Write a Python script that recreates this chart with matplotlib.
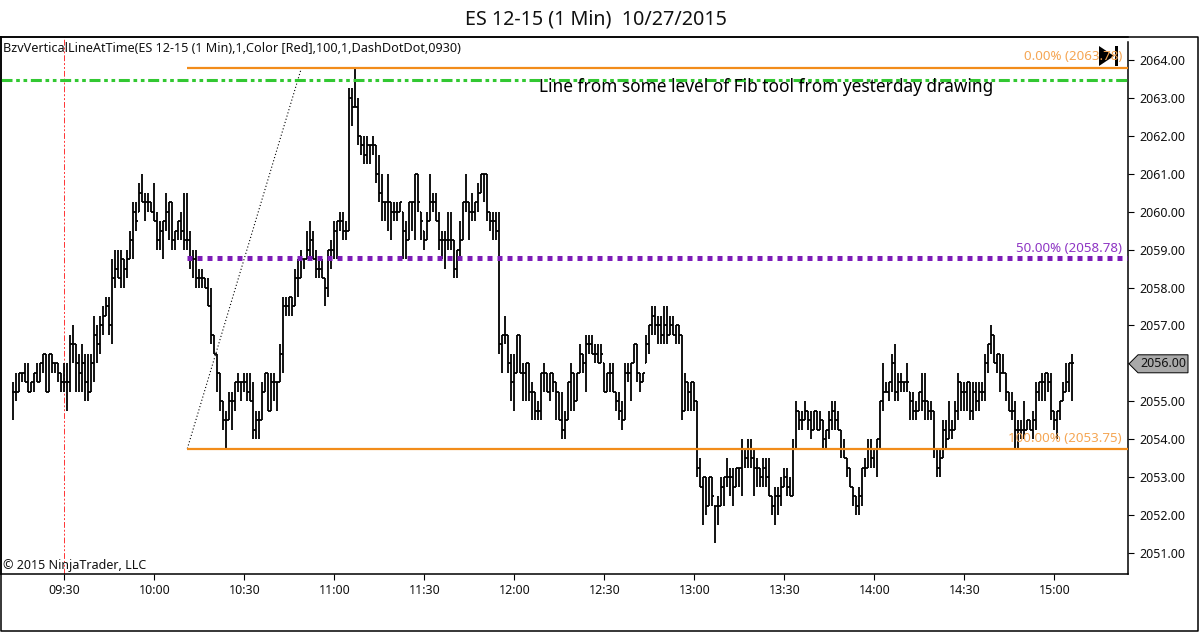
import numpy as np
import matplotlib
matplotlib.use('Agg')
import matplotlib.pyplot as plt
from matplotlib.patches import Polygon, Rectangle

plt.rcParams['font.family'] = ['Noto Sans', 'DejaVu Sans']

W, H = 1199, 632

# prices are points above 2000, one bar per minute
highs = [
    55.5, 55.75, 55.75, 55.75, 56, 56, 55.5, 55.75, 56, 56,
    56.25, 56.25, 56.25, 56.25, 56, 56, 55.75, 56, 56, 56.75,
    57, 56.5, 56.25, 56.5, 56.25, 56.25, 56.25, 57.25, 57, 57.25,
    57.5, 57.75, 57.75, 58.75, 59, 59, 59, 58.75, 59, 59.5,
    60.25, 60.25, 60.75, 61, 60.5, 60.5, 60.25, 60.75, 60, 59.75,
    59.75, 60.5, 60.25, 60.25, 59.5, 59.75, 60, 60.5, 60.5, 59.5,
    59, 59, 58.5, 58.5, 58.25, 58.25, 58, 56.75, 56.25, 55.75,
    55, 54.75, 55.25, 55.25, 55.5, 55.75, 55.5, 55.75, 55.75, 55.75,
    55.5, 54.75, 54.75, 55.5, 55.75, 55.75, 55.75, 55.75, 55.5, 56.5,
    57.75, 57.75, 57.75, 57.75, 58.5, 58.75, 59, 58.75, 59.5, 59.75,
    59.5, 59, 58.75, 58.75, 58.25, 59, 59.25, 59.75, 59.75, 60,
    60, 59.75, 63.25, 63.25, 63.75, 63, 62, 62, 62, 61.75,
    62, 61.75, 61.5, 61, 60.25, 61, 60.25, 60.25, 60.25, 60.25,
    60, 59.75, 60.25, 60.25, 61, 61, 60, 59.5, 60, 61,
    60.5, 60.5, 60, 59.5, 59.5, 60, 60, 59.25, 59, 59.75,
    60.25, 61, 60.25, 60.5, 60.25, 60.75, 61, 61, 61, 60,
    60, 60, 60, 56.75, 57.25, 56.75, 56.25, 56.25, 56.75, 56.75,
    56, 56, 56, 55.5, 55.25, 55, 55.75, 56, 55.75, 55.75,
    55.75, 55.5, 55.25, 55.25, 54.75, 55.5, 56, 55.75, 55.75, 56.5,
    56.25, 56.75, 56.75, 56.75, 56.5, 56.5, 56.5, 56, 55.75, 56,
    56, 55.25, 55.25, 55, 56, 56, 56, 56.5, 56.5, 55.75,
    55.75, 56.75, 57, 57.5, 57.5, 57.25, 57.25, 57.5, 57.5, 57.25,
    57.25, 57, 57, 56.75, 55.75, 55.5, 55.5, 55.5, 55, 53.5,
    53, 53, 53, 53, 52.25, 52.5, 53, 53, 53.5, 53.25,
    53.25, 53.25, 53.25, 54, 53.75, 54, 54, 53.75, 53.5, 53.25,
    53.5, 53.5, 53.5, 52.5, 52.75, 52.75, 53, 53.25, 53.25, 53,
    54, 55, 54.75, 54.75, 55, 54.75, 54.75, 54.75, 54.75, 54.75,
    54.5, 54.25, 54.75, 55, 55, 54.75, 54.25, 54, 53.5, 53.25,
    52.75, 52.5, 52.75, 53.25, 53.5, 54, 54, 53.75, 54, 55,
    56, 55.5, 55.5, 56.25, 56.5, 55.75, 55.75, 55.5, 56, 55.25,
    55.25, 55, 55.25, 55.75, 55.75, 55, 55, 54.75, 53.75, 53.75,
    54.5, 54.5, 55, 54.5, 55, 55.75, 55.5, 55.5, 55.5, 55.5,
    55.5, 55.5, 55.5, 55.5, 56.25, 56.5, 57, 56.75, 56.25, 56.25,
    56.25, 55.75, 55.25, 55.25, 55, 54.5, 54.5, 55, 54.5, 54.5,
    54.75, 55.5, 55.5, 55.75, 55.75, 55.75, 55.75, 54.75, 54.75, 55,
    55.5, 56, 56, 56.25,
]
lows = [
    54.5, 55, 55.25, 55.5, 55.5, 55.25, 55.25, 55.25, 55.5, 55.5,
    55.75, 55.25, 55.25, 55.75, 55.75, 55.5, 55.25, 55.25, 54.75, 55.25,
    56, 55.25, 55.25, 55.25, 55, 55, 55.25, 55.5, 56, 56.25,
    56.75, 57.25, 56.75, 56.5, 58, 58.25, 58, 58, 58.25, 58.75,
    58.75, 59.5, 60, 60.25, 59.75, 60, 60, 59.75, 59, 59,
    58.75, 59.5, 59.25, 59, 59, 59.25, 59.25, 59, 59, 58.5,
    58.25, 58, 58, 58, 58, 57.5, 56.5, 56.25, 55.25, 54.75,
    54.25, 53.75, 54.5, 54.25, 54.75, 55.25, 55, 55.25, 55, 55,
    54, 54, 54, 54.5, 55.25, 54.75, 54.75, 55, 54.75, 55.5,
    55.75, 57.25, 57.25, 57.25, 57.5, 57.75, 58.25, 58.5, 58.75, 58.75,
    58.75, 58.25, 58.25, 58.25, 57.5, 57.75, 58.5, 58.75, 58.75, 59.5,
    59.25, 59.25, 59.5, 62.25, 62.75, 61.75, 61.5, 61.25, 61.25, 61.25,
    61.5, 60.75, 60.25, 59.75, 59.75, 59.5, 59.25, 59.75, 59.75, 60,
    58.75, 58.75, 59.25, 59.5, 59.25, 60, 59.25, 59, 59.25, 59.75,
    60, 59.75, 59, 58.75, 58.5, 59, 59, 58.25, 58.25, 58.75,
    59.25, 60, 59.25, 59.75, 59.75, 60, 60.5, 60.25, 59.75, 59.5,
    59.25, 59.25, 56.25, 55.75, 56.5, 55.75, 55, 54.75, 55.75, 55.75,
    55, 55, 55, 54.5, 54.5, 54.5, 54.5, 55.25, 55.25, 55,
    55.25, 54.5, 54.5, 54, 54, 54.5, 54.75, 54.75, 55, 55.75,
    55.75, 55.25, 56.25, 56.25, 56, 56, 56, 55.25, 55.25, 55.25,
    55.25, 54.75, 54.5, 54.25, 54.5, 55.5, 55, 56, 55.5, 55.25,
    55.5, 56, 56.25, 56.75, 56.75, 56.5, 56.5, 56.5, 56.5, 56.75,
    56.75, 56.5, 56.5, 54.5, 54.75, 54.75, 54.75, 54.75, 53, 52.75,
    51.75, 52, 52.25, 52.25, 51.25, 51.75, 52.25, 52.25, 52.75, 52.5,
    52.25, 52.75, 52.75, 52.5, 53.25, 53.25, 53.25, 52.5, 52.75, 52.75,
    52.75, 52.75, 52.5, 52, 51.75, 52, 52.25, 52.75, 52.5, 52.5,
    52.5, 53.75, 54.25, 54.25, 54.5, 54.25, 54, 54.25, 54.25, 54.25,
    53.75, 53.75, 54, 54.25, 54.25, 54.25, 53.5, 53.5, 53, 52.75,
    52.25, 52, 52, 52.25, 53, 53.25, 53.25, 53.25, 53, 53.75,
    54.75, 55.25, 55, 55.25, 55, 55, 55.25, 55.25, 55.25, 54.5,
    54.5, 54.5, 54.75, 54.75, 54.5, 54.5, 54.5, 53.5, 53, 53,
    53.5, 53.75, 54, 54, 54.25, 54.5, 54.75, 54.75, 54.75, 54.5,
    54.5, 54.75, 54.75, 55, 55, 55.75, 56.25, 56, 55.75, 55.25,
    55.75, 55, 54.75, 54.5, 53.75, 53.75, 54, 54, 54.25, 54.25,
    54, 54.25, 55, 55, 55, 55.25, 54.5, 54.25, 54, 54.5,
    55, 55.25, 55.25, 55,
]
closes = [
    55.25, 55.25, 55.75, 55.75, 55.5, 55.25, 55.5, 55.75, 55.5, 56,
    56.25, 55.25, 56.25, 56, 56, 55.75, 55.5, 55.5, 55.5, 56.5,
    56.5, 56, 55.75, 56, 55.5, 55.25, 56, 56.75, 56.5, 57,
    57.25, 57.5, 57, 58.25, 58.5, 58.25, 58.75, 58.5, 58.75, 59.25,
    60, 59.75, 60.5, 60.25, 60.25, 60.25, 60, 59.75, 59.25, 59.5,
    59.75, 60, 60.25, 59.25, 59.5, 59.75, 59.5, 59.25, 59.25, 58.75,
    58.75, 58.25, 58.25, 58.25, 58, 57.5, 56.75, 56.25, 55.75, 55,
    54.5, 54.5, 55, 55, 55.5, 55.5, 55.5, 55.5, 55.25, 55,
    54.25, 54.5, 54.5, 55.25, 55.75, 54.75, 55.5, 55.5, 55.5, 56.25,
    57.5, 57.5, 57.75, 57.5, 58.25, 58.25, 58.75, 58.75, 59, 59.25,
    58.75, 58.5, 58.5, 58.25, 58, 59, 59, 59.5, 59.75, 59.75,
    59.5, 59.5, 63, 62.75, 62.75, 62, 61.75, 61.5, 61.75, 61.75,
    61.75, 61, 60.5, 60.25, 60.25, 60.25, 60, 60, 60, 60.25,
    59.5, 59.25, 60.25, 60.25, 61, 60.25, 59.75, 59.25, 59.75, 60.25,
    60.25, 59.75, 59.25, 59.25, 59.25, 59.25, 59.25, 58.5, 59, 59.25,
    60.25, 60.25, 60, 60, 60.25, 60.5, 61, 61, 60, 59.75,
    59.75, 59.5, 56.5, 56.75, 56.75, 56, 55.5, 55.75, 56.75, 55.75,
    55.75, 56, 55.25, 55.25, 54.75, 54.75, 55.75, 55.75, 55.25, 55.75,
    55.5, 55.25, 54.5, 54.25, 54.5, 55.5, 55.75, 55, 55.75, 56.25,
    56, 56.5, 56.5, 56.25, 56.25, 56, 56.25, 55.25, 55.75, 55.75,
    55.25, 55, 54.75, 54.5, 55.75, 55.75, 56, 56.5, 55.75, 55.5,
    55.75, 56.5, 57, 57.25, 57, 57, 56.75, 57, 56.75, 57,
    56.75, 57, 56.75, 54.75, 55.5, 55.25, 55.5, 55, 53.25, 52.75,
    53, 52.25, 53, 52.5, 52.25, 52.25, 52.75, 53, 53, 53,
    52.75, 53.25, 53.25, 53.75, 53.5, 53.75, 53.5, 53.25, 53.25, 53,
    53.25, 53, 52.5, 52.25, 52.5, 52.5, 52.75, 53, 52.75, 52.5,
    53.75, 54.75, 54.5, 54.5, 54.75, 54.5, 54.25, 54.75, 54.25, 54.5,
    54, 54.25, 54.5, 54.75, 54.5, 54.25, 53.75, 53.5, 53.25, 52.75,
    52.5, 52.25, 52.5, 53.25, 53.25, 53.75, 53.5, 53.75, 54, 55,
    55.25, 55.25, 55.5, 56, 55.25, 55.5, 55.5, 55.5, 55.5, 55,
    54.75, 54.75, 55.25, 55, 55, 54.75, 54.75, 53.75, 53.25, 53.5,
    54.25, 54, 54.25, 54.25, 54.75, 55.5, 55.25, 55.25, 55.5, 54.75,
    55.25, 55, 55.25, 55.25, 56, 56.5, 56.75, 56, 56.25, 55.75,
    55.75, 55.25, 54.75, 54.75, 54.25, 54.25, 54.25, 54.25, 54.5, 54.25,
    54.5, 55.25, 55.5, 55.5, 55.75, 55.5, 54.75, 54.5, 54.75, 55,
    55.25, 55.5, 56, 56,
]
price_base = 2000
first_bar = -17  # minutes from 09:30

x_ticks = [0, 30, 60, 90, 120, 150, 180, 210, 240, 270, 300, 330]
x_labels = ['09:30', '10:00', '10:30', '11:00', '11:30', '12:00',
            '12:30', '13:00', '13:30', '14:00', '14:30', '15:00']
y_ticks = [2051, 2052, 2053, 2054, 2055, 2056, 2057, 2058, 2059, 2060, 2061, 2062, 2063, 2064]

fib_0 = 2063.78
fib_50 = 2058.78
fib_100 = 2053.75
fib_start = 41
fib_end = 79
green_level = 2063.47
last_price = 2056.00


def pt(x, y):
    # pixel of the reference -> figure fraction
    return (x / W, 1 - y / H)


def label(fig, x, y, s, **kw):
    fig.text(x / W, 1 - y / H, s, va='center', **kw)


def plot_bars(ax):
    h = np.array(highs) + price_base
    l = np.array(lows) + price_base
    c = np.array(closes) + price_base
    o = np.clip(np.r_[c[0], c[:-1]], l, h)
    t = np.arange(len(h)) + first_bar
    ax.vlines(t, l, h, color='k', lw=1.3, zorder=2)
    ax.hlines(o, t - 0.5, t, color='k', lw=1.3, zorder=2)
    ax.hlines(c, t, t + 0.5, color='k', lw=1.3, zorder=2)


def main():
    fig = plt.figure(figsize=(W / 100, H / 100), dpi=100)
    ax = fig.add_axes([1 / W, 1 - 574 / H, 1127 / W, 537 / H])
    ax.set_xlim((1 - 64.3) / 3, (1128 - 64.3) / 3)
    ax.set_ylim(2050.445, 2064.607)

    ax.axvline(0, color='red', lw=0.7, alpha=0.8, ls=(0, (6, 2, 2, 2, 2, 2)), zorder=1)
    plot_bars(ax)

    x_end = ax.get_xlim()[1]
    ax.hlines([fib_0, fib_100], fib_start, x_end, color='#F28C1A', lw=1.6, zorder=3)
    ax.plot([fib_start, x_end], [fib_50, fib_50], color='#7D1CB8', lw=3.6,
            ls=(0, (1, 1)), solid_capstyle='butt', dash_capstyle='butt', zorder=3)
    ax.axhline(green_level, color='#32C832', lw=2.2, ls=(0, (3.6, 1.2, 1.2, 1.2, 1.2, 1.2)), zorder=3)
    ax.plot([fib_start, fib_end], [fib_100, fib_0], color='k', lw=0.8, ls=(0, (1, 2)), zorder=2)

    ax.set_xticks(x_ticks)
    ax.set_xticklabels(x_labels)
    ax.set_yticks(y_ticks)
    ax.set_yticklabels(['{:.2f}'.format(v) for v in y_ticks])
    ax.yaxis.tick_right()
    ax.tick_params(axis='both', length=4, width=0.8, labelsize=9, color='k', labelcolor='#111111')
    ax.tick_params(axis='x', pad=3)
    ax.tick_params(axis='y', pad=4)
    for s in ax.spines.values():
        s.set_linewidth(1.1)
    ax.spines['right'].set_bounds(ax.get_ylim()[0], 2064.607 - 5 / 37.92)

    # window frame round the whole chart
    frame = [(0.5, 36.5), (1197.5, 36.5), (1197.5, 631), (0.5, 631), (0.5, 36.5)]
    fig.add_artist(plt.Line2D([pt(*p)[0] for p in frame], [pt(*p)[1] for p in frame], color='k', lw=1.1))

    label(fig, 596, 19, 'ES 12-15 (1 Min)  10/27/2015', ha='center', fontsize=14.2, color='#111111')
    label(fig, 3, 49, 'BzvVerticalLineAtTime(ES 12-15 (1 Min),1,Color [Red],100,1,DashDotDot,0930)',
          fontsize=9.1, color='#111111')
    label(fig, 3, 566, '\u00a9 2015 NinjaTrader, LLC', fontsize=9, color='#111111')
    label(fig, 539, 87, 'Line from some level of Fib tool from yesterday drawing', fontsize=12.4, color='k')
    label(fig, 1122, 57, '0.00% (2063.78)', ha='right', fontsize=9.6, color='#F5A654')
    label(fig, 1122, 248, '50.00% (2058.78)', ha='right', fontsize=9.6, color='#8E35C4')
    label(fig, 1122, 439, '100.00% (2053.75)', ha='right', fontsize=9.6, color='#F5A654')

    # play marker, top right
    fig.add_artist(Polygon([pt(1099, 46), pt(1099, 66), pt(1114, 56)], transform=fig.transFigure, color='k', lw=0))
    fig.add_artist(Rectangle(pt(1115, 66), 3 / W, 20 / H, transform=fig.transFigure, color='k', lw=0))

    # last price tag
    tag_y = 60.6 + (2064 - last_price) * 37.9
    tag = [pt(1129, tag_y), pt(1138, tag_y - 9), pt(1188, tag_y - 9), pt(1188, tag_y + 9), pt(1138, tag_y + 9)]
    fig.add_artist(Polygon(tag, transform=fig.transFigure, facecolor='#A9A9A9', edgecolor='k', lw=0.7))
    label(fig, 1163, tag_y, '{:.2f}'.format(last_price), ha='center', fontsize=9, color='#111111')

    fig.savefig('out.png', dpi=100)
    plt.close(fig)


if __name__ == '__main__':
    main()
